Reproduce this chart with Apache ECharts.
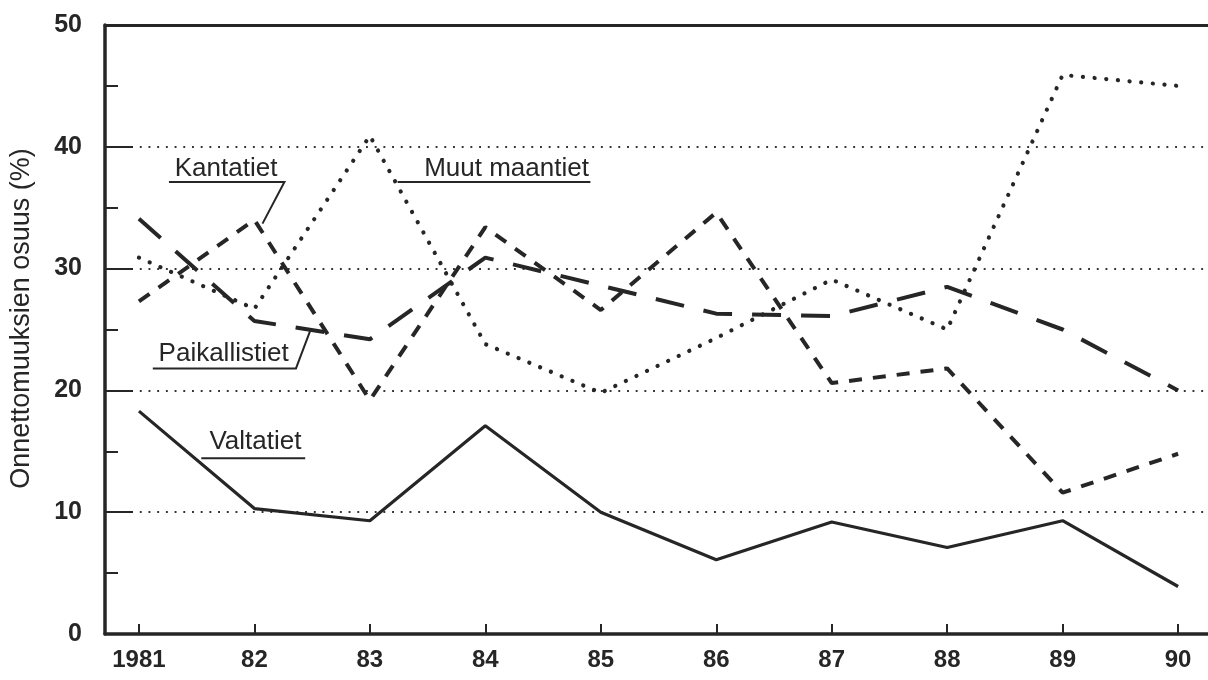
<!DOCTYPE html>
<html>
<head>
<meta charset="utf-8">
<script src="https://cdn.jsdelivr.net/npm/echarts@6/dist/echarts.min.js"></script>
<style>
html,body{margin:0;padding:0;background:#fff;}
#chart{width:1208px;height:680px;}
</style>
</head>
<body>
<div id="chart"></div>
<script>
// ---- data ----
const years = [1981, 1982, 1983, 1984, 1985, 1986, 1987, 1988, 1989, 1990];
const xTickLabels = ['1981', '82', '83', '84', '85', '86', '87', '88', '89', '90'];
const yTickValues = [0, 10, 20, 30, 40, 50];
const yTickLabels = ['0', '10', '20', '30', '40', '50'];
const valtatiet     = [18.3, 10.3, 9.3, 17.1, 10.0, 6.1, 9.2, 7.1, 9.3, 3.9];
const kantatiet     = [27.3, 34.0, 19.2, 33.4, 26.6, 34.6, 20.6, 21.8, 11.6, 14.8];
const paikallistiet = [34.1, 25.7, 24.2, 30.9, 28.6, 26.3, 26.1, 28.5, 25.0, 20.0];
const muutMaantiet  = [30.9, 26.7, 40.9, 23.8, 19.8, 24.3, 29.1, 25.0, 45.9, 45.0];
const yTitle = 'Onnettomuuksien osuus (%)';

// annotation labels (data coordinates)
const annotations = [
  { text: 'Kantatiet',     tx: 1981.31, ty: 37.54, line: [[1981.26, 37.11], [1982.26, 37.11], [1982.07, 33.69]] },
  { text: 'Muut maantiet', tx: 1983.47, ty: 37.54, line: [[1983.24, 37.11], [1984.91, 37.11]] },
  { text: 'Paikallistiet', tx: 1981.17, ty: 22.38, line: [[1981.12, 21.80], [1982.36, 21.80], [1982.49, 25.08]] },
  { text: 'Valtatiet',     tx: 1981.61, ty: 15.08, line: [[1981.54, 14.43], [1982.44, 14.43]] }
];

const FONT = "'Liberation Sans', Arial, Helvetica, sans-serif";
const INK = '#262626';
const X_MIN = 1980.706, X_MAX = 1990.259;

function pairs(arr) { return years.map((y, i) => [y, arr[i]]); }

const chart = echarts.init(document.getElementById('chart'), null, { renderer: 'canvas' });

const option = {
  backgroundColor: '#ffffff',
  animation: false,
  grid: { left: 103, right: 0, top: 25, bottom: 46, containLabel: false },
  xAxis: [
    {
      type: 'value', min: X_MIN, max: X_MAX, position: 'bottom',
      axisLine: { show: true, onZero: false, lineStyle: { color: INK, width: 3.5 } },
      axisTick: { show: true, inside: true, length: 10, customValues: years, lineStyle: { color: INK, width: 2 } },
      axisLabel: {
        customValues: years, margin: 14,
        formatter: v => xTickLabels[years.indexOf(Math.round(v))],
        fontFamily: FONT, fontSize: 24, fontWeight: 'bold', color: INK
      },
      splitLine: { show: false }
    },
    {
      type: 'value', min: X_MIN, max: X_MAX, position: 'top',
      axisLine: { show: true, onZero: false, lineStyle: { color: INK, width: 3 } },
      axisTick: { show: false }, axisLabel: { show: false }, splitLine: { show: false }
    }
  ],
  yAxis: [
    {
      type: 'value', min: 0, max: 50, interval: 5, position: 'left',
      axisLine: { show: true, onZero: false, lineStyle: { color: INK, width: 3.5 } },
      axisTick: { show: true, inside: true, length: 13, lineStyle: { color: INK, width: 2 } },
      axisLabel: { show: false },
      splitLine: { show: false },
      name: yTitle, nameLocation: 'middle', nameGap: 70, nameRotate: 90,
      nameTextStyle: { fontFamily: FONT, fontSize: 27, color: INK, padding: [0, 0, 0, 22] }
    },
    {
      type: 'value', min: 0, max: 50, interval: 10, position: 'left',
      axisLine: { show: false },
      axisTick: { show: true, inside: true, length: 28, lineStyle: { color: INK, width: 2 } },
      axisLabel: {
        margin: 23,
        formatter: v => yTickLabels[yTickValues.indexOf(Math.round(v))],
        fontFamily: FONT, fontSize: 25, fontWeight: 'bold', color: INK
      },
      splitLine: { show: true, lineStyle: { color: '#333', width: 1.9, type: [1.9, 6.8] } }
    }
  ],
  series: [
    { name: 'Valtatiet', type: 'line', data: pairs(valtatiet), symbol: 'none', xAxisIndex: 0, yAxisIndex: 0,
      lineStyle: { color: INK, width: 3.2, type: 'solid' } },
    { name: 'Kantatiet', type: 'line', data: pairs(kantatiet), symbol: 'none', xAxisIndex: 0, yAxisIndex: 0,
      lineStyle: { color: INK, width: 4, type: [13, 11] } },
    { name: 'Paikallistiet', type: 'line', data: pairs(paikallistiet), symbol: 'none', xAxisIndex: 0, yAxisIndex: 0,
      lineStyle: { color: INK, width: 4, type: [29, 20] } },
    { name: 'Muut maantiet', type: 'line', data: pairs(muutMaantiet), symbol: 'none', xAxisIndex: 0, yAxisIndex: 0,
      lineStyle: { color: INK, width: 4.2, type: [0.1, 11.6], cap: 'round' } }
  ]
};
chart.setOption(option);

// annotations placed through the chart's own coordinate system
const graphics = [];
annotations.forEach(a => {
  const pts = a.line.map(p => chart.convertToPixel({ xAxisIndex: 0, yAxisIndex: 0 }, p));
  graphics.push({ type: 'polyline', shape: { points: pts }, style: { stroke: INK, lineWidth: 2, fill: null }, z: 10 });
  const tp = chart.convertToPixel({ xAxisIndex: 0, yAxisIndex: 0 }, [a.tx, a.ty]);
  graphics.push({ type: 'text', x: tp[0], y: tp[1] + 5, z: 10,
    style: { text: a.text, font: "26px " + FONT, fill: INK, align: 'left', verticalAlign: 'bottom' } });
});
chart.setOption({ graphic: graphics });
</script>
</body>
</html>
